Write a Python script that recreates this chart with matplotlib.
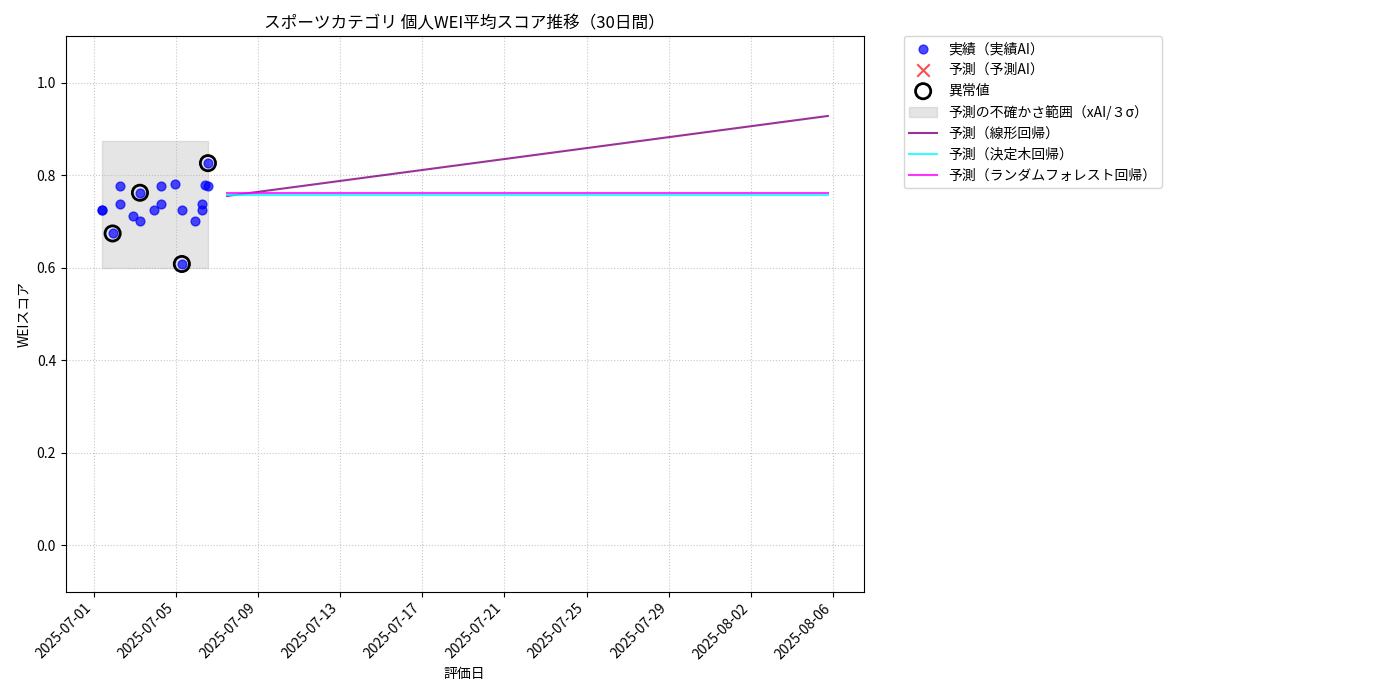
import matplotlib
matplotlib.use("Agg")
import matplotlib.pyplot as plt
import matplotlib.dates as mdates
import numpy as np
import pandas as pd

plt.rcParams['font.family'] = ['Noto Sans CJK JP', 'DejaVu Sans']

base = pd.Timestamp("2025-07-01")
act_days = [0.4, 0.4, 1.28, 1.28, 0.93, 1.9, 2.26, 2.26, 2.94, 3.27, 3.27, 3.99, 4.3, 4.3, 4.94, 5.28, 5.28, 5.41, 5.57, 5.57]
act_vals = [0.724, 0.724, 0.776, 0.737, 0.674, 0.711, 0.700, 0.762, 0.724, 0.776, 0.737, 0.780, 0.724, 0.608, 0.700, 0.737, 0.724, 0.778, 0.776, 0.826]
out_days = [0.93, 2.26, 4.3, 5.57]
out_vals = [0.674, 0.762, 0.608, 0.826]
band_low, band_high = 0.600, 0.873
pred_days = [6.5, 35.75]
lin_vals = [0.755, 0.928]
dt_vals = [0.758, 0.758]
rf_vals = [0.762, 0.762]

td = lambda d: [base + pd.Timedelta(days=x) for x in d]

fig = plt.figure(figsize=(14, 7), dpi=100)
ax = fig.add_axes([0.047, 0.155, 0.57, 0.793])
ax.scatter(td(act_days), act_vals, color='blue', alpha=0.7, s=40, label='実績（実績AI）', zorder=3)
ax.scatter([], [], color='red', marker='x', s=80, alpha=0.7, label='予測（予測AI）')
ax.scatter(td(out_days), out_vals, facecolors='none', edgecolors='black', s=120, linewidths=2, label='異常値', zorder=4)
ax.fill_between(td([min(act_days), max(act_days)]), band_low, band_high, color='gray', alpha=0.2, label='予測の不確かさ範囲（xAI/３σ）')
ax.plot(td(pred_days), lin_vals, color='purple', alpha=0.8, label='予測（線形回帰）')
ax.plot(td(pred_days), dt_vals, color='cyan', alpha=0.8, label='予測（決定木回帰）')
ax.plot(td(pred_days), rf_vals, color='magenta', alpha=0.8, label='予測（ランダムフォレスト回帰）')

ax.set_ylim(-0.1, 1.1)
ax.set_xlim(base - pd.Timedelta(days=1.35), base + pd.Timedelta(days=37.5))
ticks = [base + pd.Timedelta(days=4 * i) for i in range(10)]
ax.set_xticks(ticks)
ax.xaxis.set_major_formatter(mdates.DateFormatter('%Y-%m-%d'))
plt.setp(ax.get_xticklabels(), rotation=45, ha='right')
ax.grid(True, linestyle=':', alpha=0.7)
ax.set_title('スポーツカテゴリ 個人WEI平均スコア推移（30日間）', fontsize=12)
ax.set_xlabel('評価日')
ax.set_ylabel('WEIスコア')
ax.legend(bbox_to_anchor=(1.05, 1), loc='upper left', borderaxespad=0., fontsize=10)
fig.savefig('out.png')
